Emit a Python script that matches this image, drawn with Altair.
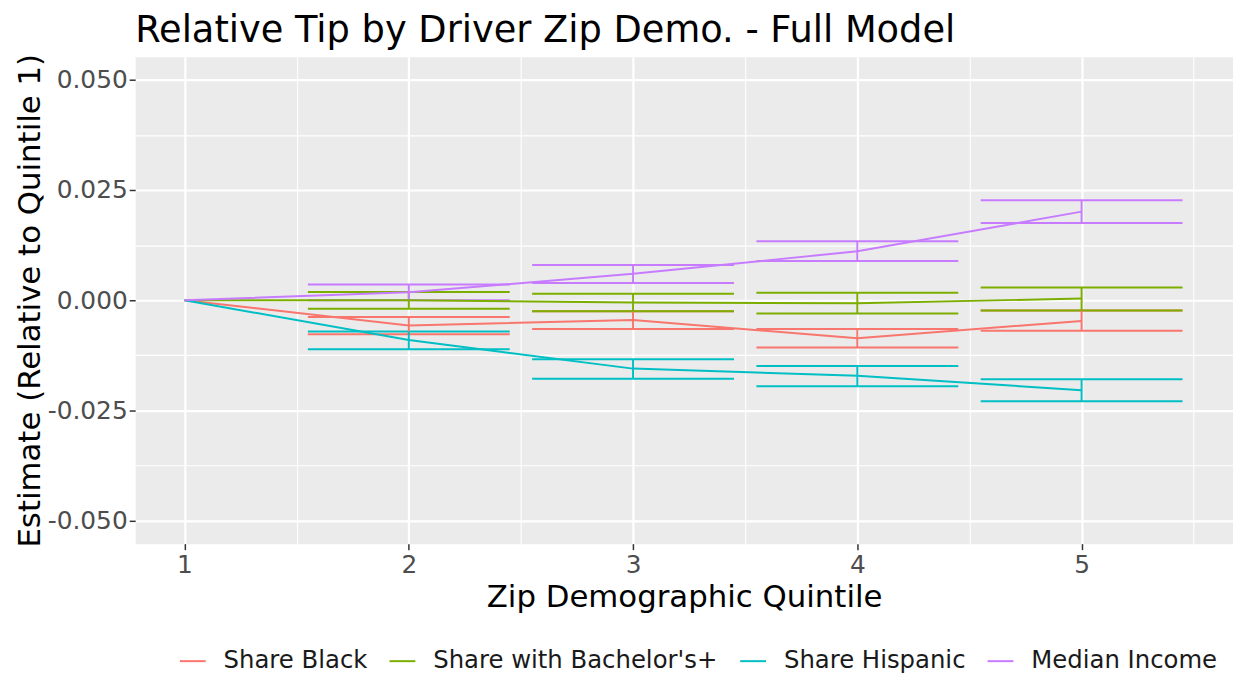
import altair as alt
import pandas as pd

quintiles = [1, 2, 3, 4, 5]
series_names = ["Share Black", "Share with Bachelor's+", "Share Hispanic", "Median Income"]
series_colors = ["#F8766D", "#7CAE00", "#00BFC4", "#C77CFF"]

black_est = [0.0, -0.0057, -0.0045, -0.0086, -0.0047]
black_lo = [None, -0.0077, -0.0065, -0.0107, -0.0069]
black_hi = [None, -0.0038, -0.0025, -0.0065, -0.0023]

bach_est = [0.0, 0.0000, -0.0005, -0.0007, 0.0004]
bach_lo = [None, -0.0019, -0.0025, -0.0030, -0.0023]
bach_hi = [None, 0.0019, 0.0015, 0.0017, 0.0029]

hisp_est = [0.0, -0.0090, -0.0155, -0.0171, -0.0204]
hisp_lo = [None, -0.0111, -0.0178, -0.0195, -0.0229]
hisp_hi = [None, -0.0071, -0.0134, -0.0149, -0.0179]

inc_est = [0.0, 0.0018, 0.0060, 0.0111, 0.0201]
inc_lo = [None, 0.0000, 0.0039, 0.0089, 0.0175]
inc_hi = [None, 0.0036, 0.0080, 0.0134, 0.0227]

x_ticks = [1, 1.5, 2, 2.5, 3, 3.5, 4, 4.5, 5, 5.5]
y_ticks = [-0.05, -0.0375, -0.025, -0.0125, 0.0, 0.0125, 0.025, 0.0375, 0.05]

rows = []
for name, est, lo, hi in zip(
    series_names,
    [black_est, bach_est, hisp_est, inc_est],
    [black_lo, bach_lo, hisp_lo, inc_lo],
    [black_hi, bach_hi, hisp_hi, inc_hi],
):
    for q, e, l, h in zip(quintiles, est, lo, hi):
        rows.append({"series": name, "q": q, "est": e, "lo": l, "hi": h})
df = pd.DataFrame(rows)

FONT = "DejaVu Sans"
TITLE_X = "Zip Demographic Quintile"
TITLE_Y = "Estimate (Relative to Quintile 1)"
MAJOR_Y = "abs(datum.value * 40 - round(datum.value * 40)) < 1e-6"
MAJOR_X = "datum.value % 1 === 0"

x_scale = alt.Scale(domain=[0.78, 5.675], nice=False, zero=False)
y_scale = alt.Scale(domain=[-0.0552, 0.0552], nice=False, zero=False)

x_axis = alt.Axis(
    values=x_ticks,
    labelExpr=MAJOR_X + " ? format(datum.value, 'd') : ''",
    labelOverlap=False,
    grid=True,
    gridColor="white",
    gridWidth={"condition": {"test": MAJOR_X, "value": 2.2}, "value": 1.1},
    tickOpacity={"condition": {"test": MAJOR_X, "value": 1}, "value": 0},
    tickColor="#333333",
    tickSize=6,
    tickWidth=1.5,
    domain=False,
    labelFont=FONT,
    labelFontSize=25,
    labelColor="#4D4D4D",
    labelPadding=3,
    titleFont=FONT,
    titleFontSize=31,
    titleFontWeight="normal",
    titleColor="black",
    titlePadding=5,
)

y_axis = alt.Axis(
    values=y_ticks,
    labelExpr=MAJOR_Y + " ? replace(format(datum.value, '.3f'), '\u2212', '-') : ''",
    labelOverlap=False,
    grid=True,
    gridColor="white",
    gridWidth={"condition": {"test": MAJOR_Y, "value": 2.2}, "value": 1.1},
    tickOpacity={"condition": {"test": MAJOR_Y, "value": 1}, "value": 0},
    tickColor="#333333",
    tickSize=6,
    tickWidth=1.5,
    domain=False,
    labelFont=FONT,
    labelFontSize=25,
    labelColor="#4D4D4D",
    labelPadding=2,
    titleFont=FONT,
    titleFontSize=31,
    titleFontWeight="normal",
    titleColor="black",
    titlePadding=1,
)

color_enc = alt.Color(
    "series:N",
    scale=alt.Scale(domain=series_names, range=series_colors),
    legend=alt.Legend(
        title=None,
        orient="none",
        direction="horizontal",
        legendX=44,
        legendY=594,
        symbolType="stroke",
        symbolSize=676,
        symbolStrokeWidth=2,
        labelFont=FONT,
        labelFontSize=24.5,
        labelColor="#1A1A1A",
        labelLimit=500,
        labelOffset=17,
        columnPadding=18,
        padding=0,
    ),
)

base = alt.Chart(df)

line = base.mark_line(strokeWidth=2).encode(
    x=alt.X("q:Q", scale=x_scale, axis=x_axis, title=TITLE_X),
    y=alt.Y("est:Q", scale=y_scale, axis=y_axis, title=TITLE_Y),
    color=color_enc,
)

bars = base.transform_filter("isValid(datum.lo)").mark_rule(strokeWidth=2).encode(
    x=alt.X("q:Q", title=TITLE_X),
    y=alt.Y("lo:Q", title=TITLE_Y),
    y2="hi:Q",
    color=alt.Color("series:N"),
)

caps = (
    base.transform_filter("isValid(datum.lo)")
    .transform_fold(["lo", "hi"], as_=["end", "val"])
    .transform_calculate(x1="datum.q - 0.45", x2="datum.q + 0.45")
    .mark_rule(strokeWidth=2)
    .encode(
        x=alt.X("x1:Q", title=TITLE_X),
        x2="x2:Q",
        y=alt.Y("val:Q", title=TITLE_Y),
        color=alt.Color("series:N"),
        detail="end:N",
    )
)

chart = (
    alt.layer(caps, bars, line)
    .properties(
        width=1105,
        height=490,
        autosize=alt.AutoSizeParams(type="none"),
        padding={"left": 128, "top": 47, "right": 0, "bottom": 128},
        title=alt.TitleParams(
            text="Relative Tip by Driver Zip Demo. - Full Model",
            anchor="start",
            frame="group",
            font=FONT,
            fontSize=37,
            fontWeight="normal",
            color="black",
            baseline="alphabetic",
            offset=14,
            dy=40,
        ),
        background="white",
    )
    .configure_view(fill="#EBEBEB", stroke="transparent")
)

chart.save("out.html", embed_options={"renderer": "svg", "actions": False})
